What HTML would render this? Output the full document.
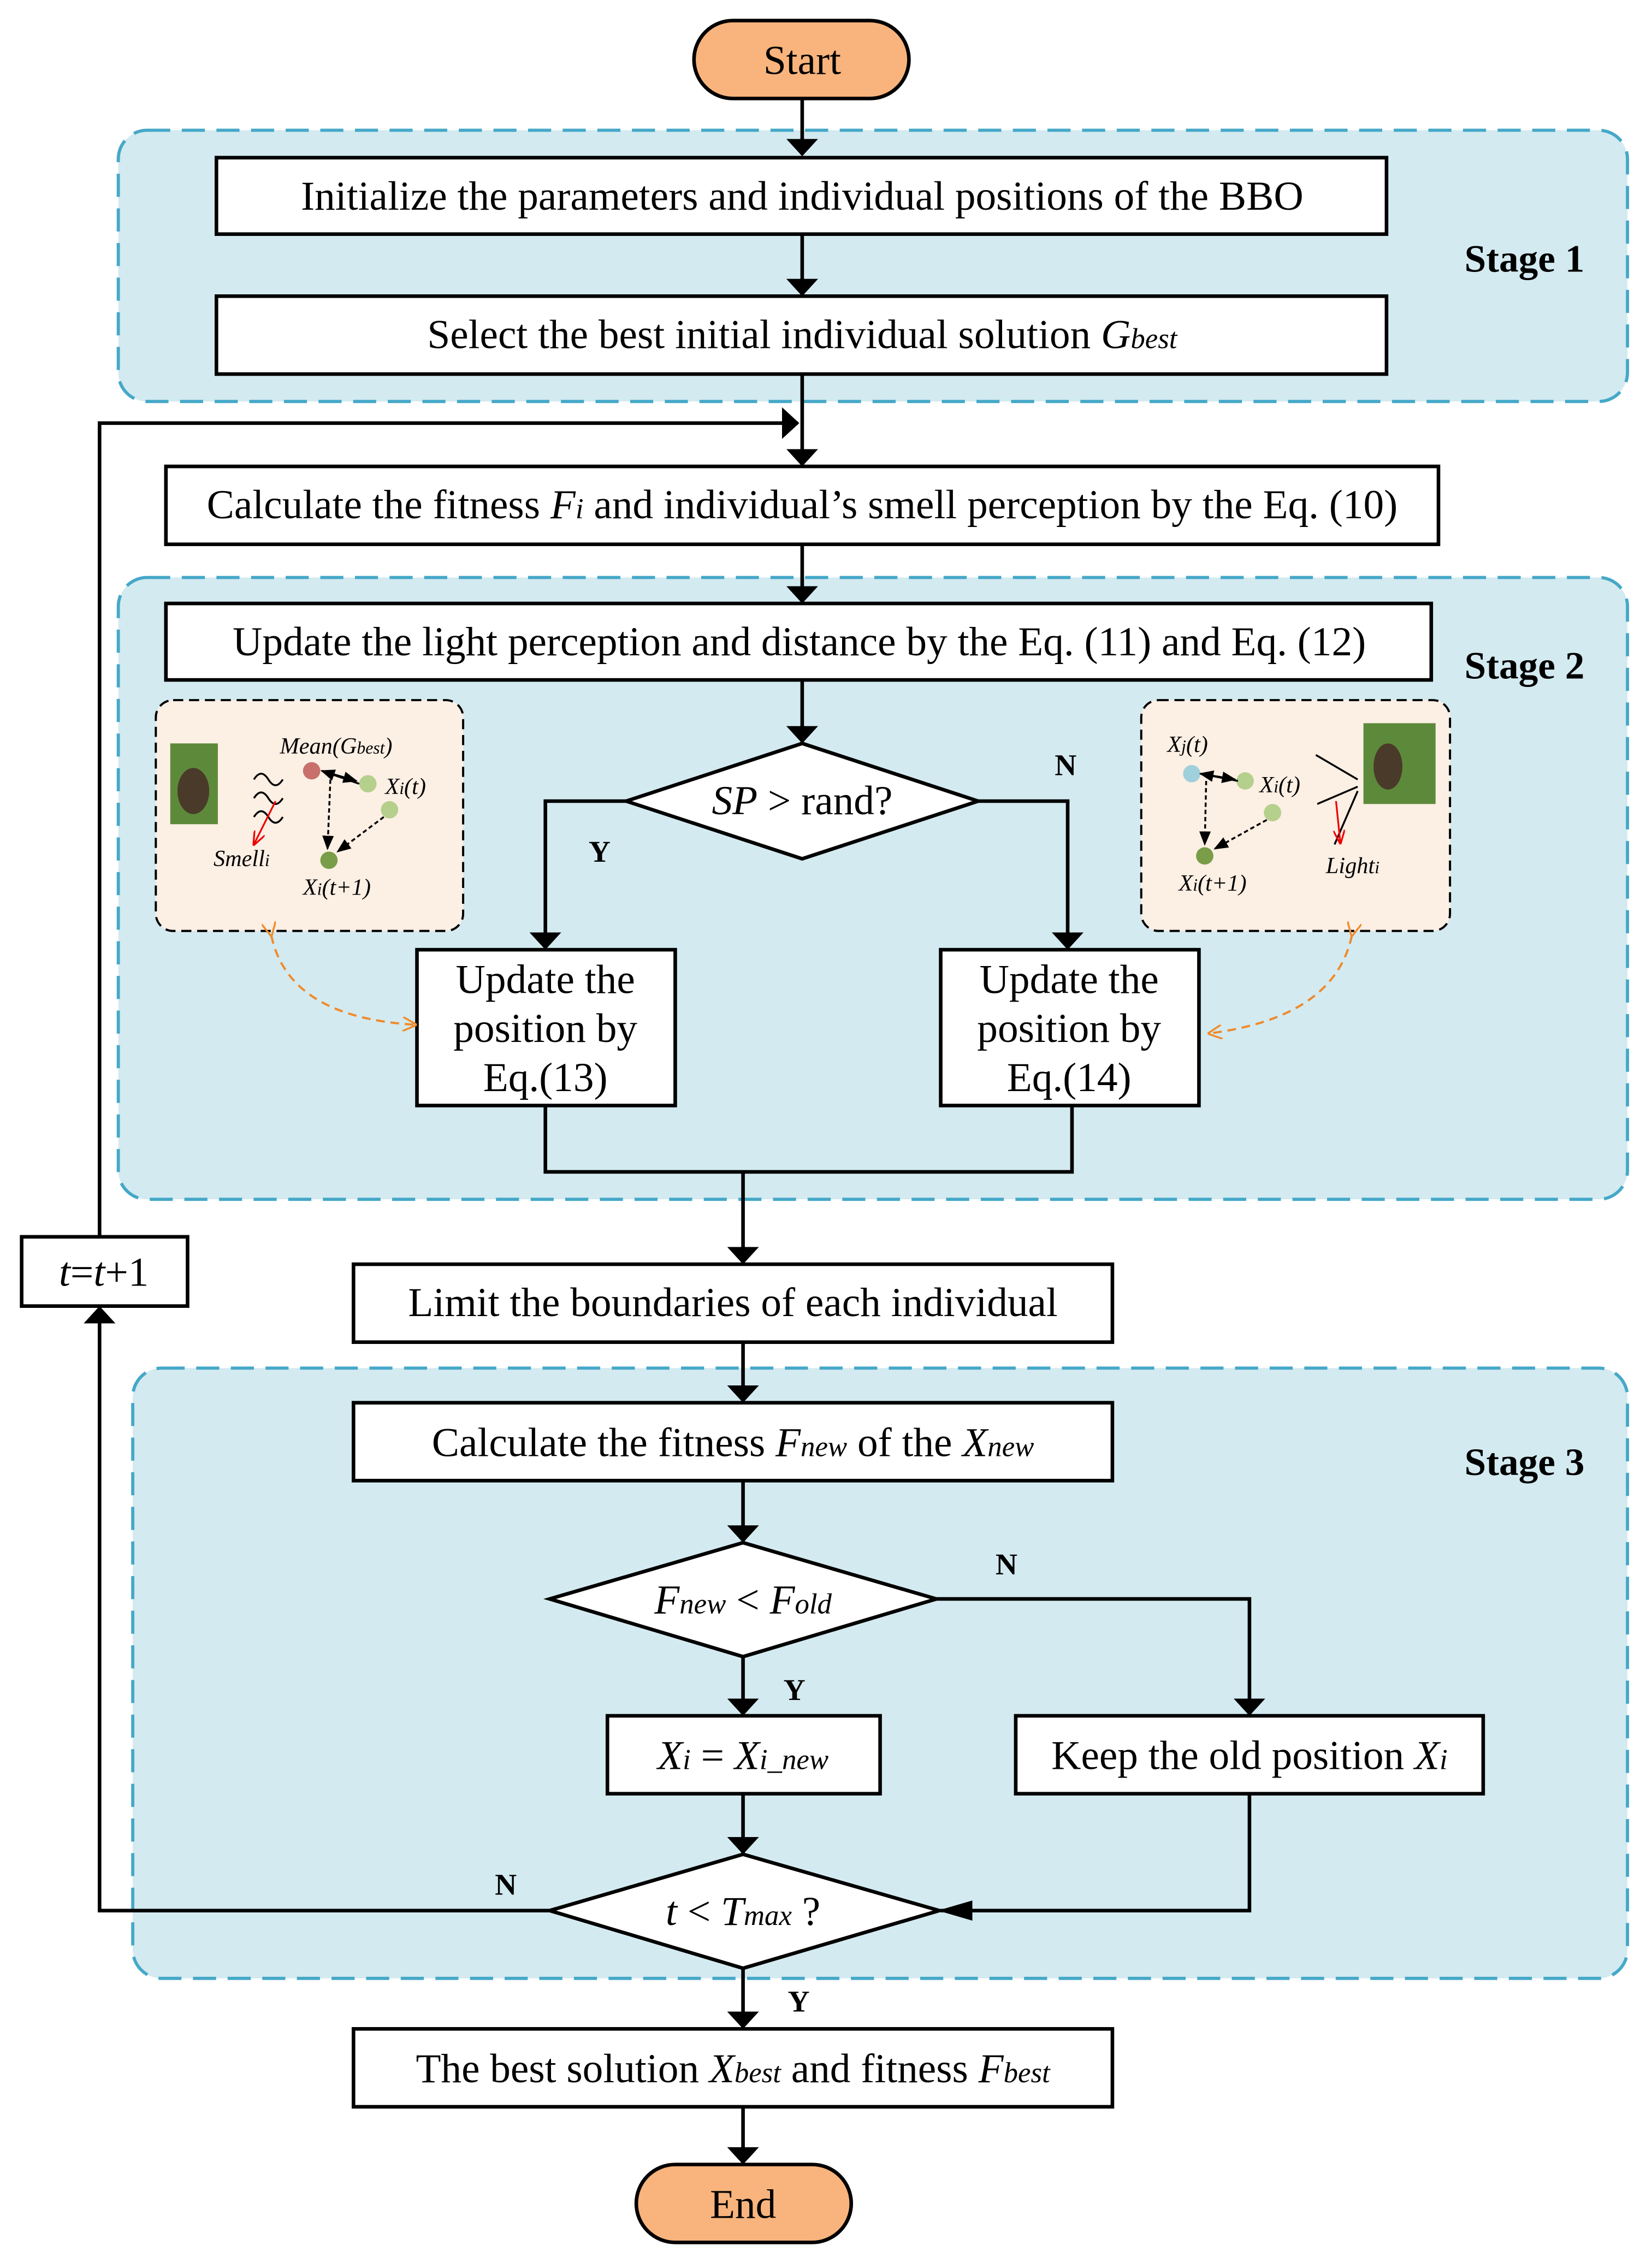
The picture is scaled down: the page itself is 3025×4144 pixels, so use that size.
<!DOCTYPE html>
<html><head><meta charset="utf-8"><style>
html,body{margin:0;padding:0;background:#fff;}
svg{display:block;}
text{font-family:"Liberation Serif",serif;fill:#000;}
</style></head><body>
<svg width="3025" height="4144" viewBox="0 0 1145 1568" xmlns="http://www.w3.org/2000/svg">
<defs>
<marker id="a" markerWidth="12" markerHeight="22" refX="11" refY="6" orient="auto" markerUnits="userSpaceOnUse" viewBox="0 0 12 12" preserveAspectRatio="none">
<path d="M0,0 L12,6 L0,12 Z" fill="#000"/></marker>
<marker id="ab" markerWidth="24" markerHeight="14" refX="22" refY="7" orient="auto" markerUnits="userSpaceOnUse" viewBox="0 0 24 14">
<path d="M0,0 L24,7 L0,14 Z" fill="#000"/></marker>
<marker id="as" markerWidth="10" markerHeight="8" refX="9" refY="4" orient="auto" markerUnits="userSpaceOnUse" viewBox="0 0 10 8">
<path d="M0,0 L10,4 L0,8 Z" fill="#000"/></marker>
<marker id="ar" markerWidth="10" markerHeight="8" refX="9" refY="4" orient="auto" markerUnits="userSpaceOnUse" viewBox="0 0 10 8">
<path d="M0,0 L10,4 L0,8" fill="none" stroke="#e00" stroke-width="1.2"/></marker>
<marker id="ao" markerWidth="10" markerHeight="10" refX="9" refY="5" orient="auto" markerUnits="userSpaceOnUse" viewBox="0 0 10 10">
<path d="M0,0 L10,5 L0,10" fill="none" stroke="#f08a2a" stroke-width="1.3"/></marker>
</defs>

<rect x="82" y="90" width="1046" height="188" rx="20" fill="#d3eaf0" stroke="#45a8c8" stroke-width="2.2" stroke-dasharray="16,8"/>
<rect x="82" y="400" width="1046" height="431" rx="20" fill="#d3eaf0" stroke="#45a8c8" stroke-width="2.2" stroke-dasharray="16,8"/>
<rect x="92" y="948" width="1036" height="423" rx="20" fill="#d3eaf0" stroke="#45a8c8" stroke-width="2.2" stroke-dasharray="16,8"/>

<g font-size="27" font-weight="bold">
<text x="1015" y="188">Stage 1</text>
<text x="1015" y="470">Stage 2</text>
<text x="1015" y="1022">Stage 3</text>
</g>

<g stroke="#000" stroke-width="2.5" fill="none">
<line x1="556" y1="68" x2="556" y2="107" marker-end="url(#a)"/>
<line x1="556" y1="162" x2="556" y2="204" marker-end="url(#a)"/>
<line x1="556" y1="259" x2="556" y2="322" marker-end="url(#a)"/>
<polyline points="69,857 69,293 553,293" marker-end="url(#a)"/>
<line x1="556" y1="377" x2="556" y2="417" marker-end="url(#a)"/>
<line x1="556" y1="471" x2="556" y2="514" marker-end="url(#a)"/>
<polyline points="434,555 378,555 378,657" marker-end="url(#a)"/>
<polyline points="678,555 740,555 740,657" marker-end="url(#a)"/>
<polyline points="378,766 378,812 743,812 743,766"/>
<line x1="515" y1="812" x2="515" y2="875" marker-end="url(#a)"/>
<line x1="515" y1="930" x2="515" y2="971" marker-end="url(#a)"/>
<line x1="515" y1="1026" x2="515" y2="1068" marker-end="url(#a)"/>
<polyline points="649,1108 866,1108 866,1188" marker-end="url(#a)"/>
<line x1="515" y1="1148" x2="515" y2="1188" marker-end="url(#a)"/>
<line x1="515" y1="1243" x2="515" y2="1284" marker-end="url(#a)"/>
<polyline points="866,1243 866,1324 652,1324" marker-end="url(#ab)"/>
<polyline points="381,1324 69,1324 69,906" marker-end="url(#a)"/>
<line x1="515" y1="1364" x2="515" y2="1405" marker-end="url(#a)"/>
<line x1="515" y1="1460" x2="515" y2="1499" marker-end="url(#a)"/>
</g>

<g stroke="#000" stroke-width="2.5" fill="#fff">
<rect x="481" y="14" width="149" height="54" rx="27" fill="#f8b47c"/>
<rect x="150" y="109" width="811" height="53"/>
<rect x="150" y="205" width="811" height="54"/>
<rect x="115" y="323" width="882" height="54"/>
<rect x="115" y="418" width="877" height="53"/>
<polygon points="556,515 678,555 556,595 434,555"/>
<rect x="289" y="658" width="179" height="108"/>
<rect x="652" y="658" width="179" height="108"/>
<rect x="15" y="857" width="115" height="48"/>
<rect x="245" y="876" width="526" height="54"/>
<rect x="245" y="972" width="526" height="54"/>
<polygon points="515,1069 649,1108 515,1148 381,1108"/>
<rect x="421" y="1189" width="189" height="54"/>
<rect x="704" y="1189" width="324" height="54"/>
<polygon points="515,1285 651,1324 515,1364 381,1324"/>
<rect x="245" y="1406" width="526" height="54"/>
<rect x="441" y="1500" width="149" height="54" rx="27" fill="#f8b47c"/>
</g>

<g font-size="28.5" text-anchor="middle">
<text x="556" y="51">Start</text>
<text x="556" y="145">Initialize the parameters and individual positions of the BBO</text>
<text x="556" y="241">Select the best initial individual solution <tspan font-style="italic">G</tspan><tspan font-style="italic" font-size="20">best</tspan></text>
<text x="556" y="359">Calculate the fitness <tspan font-style="italic">F</tspan><tspan font-style="italic" font-size="20">i</tspan> and individual’s smell perception by the Eq. (10)</text>
<text x="554" y="454">Update the light perception and distance by the Eq. (11) and Eq. (12)</text>
<text x="556" y="564"><tspan font-style="italic">SP</tspan> &gt; rand?</text>
<text x="378" y="688">Update the</text>
<text x="378" y="722">position by</text>
<text x="378" y="756">Eq.(13)</text>
<text x="741" y="688">Update the</text>
<text x="741" y="722">position by</text>
<text x="741" y="756">Eq.(14)</text>
<text x="72" y="891"><tspan font-style="italic">t</tspan>=<tspan font-style="italic">t</tspan>+1</text>
<text x="508" y="912">Limit the boundaries of each individual</text>
<text x="508" y="1009">Calculate the fitness <tspan font-style="italic">F</tspan><tspan font-style="italic" font-size="20">new</tspan> of the <tspan font-style="italic">X</tspan><tspan font-style="italic" font-size="20">new</tspan></text>
<text x="515" y="1118"><tspan font-style="italic">F</tspan><tspan font-style="italic" font-size="20">new</tspan> &lt; <tspan font-style="italic">F</tspan><tspan font-style="italic" font-size="20">old</tspan></text>
<text x="515" y="1226"><tspan font-style="italic">X</tspan><tspan font-style="italic" font-size="20">i</tspan> = <tspan font-style="italic">X</tspan><tspan font-style="italic" font-size="20">i_new</tspan></text>
<text x="866" y="1226">Keep the old position <tspan font-style="italic">X</tspan><tspan font-style="italic" font-size="20">i</tspan></text>
<text x="515" y="1334"><tspan font-style="italic">t</tspan> &lt; <tspan font-style="italic">T</tspan><tspan font-style="italic" font-size="20">max</tspan>   ?</text>
<text x="508" y="1443">The best solution <tspan font-style="italic">X</tspan><tspan font-style="italic" font-size="20">best</tspan> and fitness <tspan font-style="italic">F</tspan><tspan font-style="italic" font-size="20">best</tspan></text>
<text x="515" y="1537">End</text>
</g>
<g font-size="21" font-weight="bold">
<text x="408" y="597">Y</text>
<text x="731" y="537">N</text>
<text x="690" y="1091">N</text>
<text x="543" y="1178">Y</text>
<text x="343" y="1313">N</text>
<text x="546" y="1394">Y</text>
</g>

<rect x="108" y="485" width="213" height="160" rx="12" fill="#fcefe4" stroke="#000" stroke-width="1.5" stroke-dasharray="7,4"/>
<rect x="791" y="485" width="214" height="160" rx="12" fill="#fcefe4" stroke="#000" stroke-width="1.5" stroke-dasharray="7,4"/>
<rect x="118" y="515" width="33" height="56" fill="#5d8a3a"/>
<ellipse cx="134" cy="548" rx="11" ry="16" fill="#4a3a2a"/>
<circle cx="216" cy="534" r="6" fill="#c8706a"/>
<circle cx="255" cy="543" r="6" fill="#b5cf8c"/>
<circle cx="270" cy="561" r="6" fill="#b5cf8c"/>
<circle cx="228" cy="596" r="6" fill="#799d48"/>
<g stroke="#000" stroke-width="1.3" fill="none">
<path d="M176,540 q5,-8 10,0 t10,0"/><path d="M176,553 q5,-8 10,0 t10,0"/><path d="M176,566 q5,-8 10,0 t10,0"/>
<line x1="249" y1="543" x2="223" y2="534" marker-end="url(#as)"/>
<line x1="223" y1="534" x2="247" y2="541" marker-end="url(#as)"/>
<line x1="229" y1="540" x2="227" y2="588" stroke-dasharray="3,2" marker-end="url(#as)"/>
<line x1="266" y1="566" x2="234" y2="590" stroke-dasharray="3,2" marker-end="url(#as)"/>
</g>
<line x1="191" y1="555" x2="176" y2="585" stroke="#e00" stroke-width="1.2" marker-end="url(#ar)"/>
<g font-size="16" font-style="italic">
<text x="194" y="522">Mean(G<tspan font-size="12">best</tspan>)</text>
<text x="267" y="550">X<tspan font-size="12">i</tspan>(t)</text>
<text x="148" y="600">Smell<tspan font-size="12">i</tspan></text>
<text x="210" y="620">X<tspan font-size="12">i</tspan>(t+1)</text>
</g>
<rect x="945" y="501" width="50" height="56" fill="#5d8a3a"/>
<ellipse cx="962" cy="531" rx="10" ry="16" fill="#4a3a2a"/>
<circle cx="826" cy="536" r="6" fill="#9fd0dc"/>
<circle cx="863" cy="541" r="6" fill="#b5cf8c"/>
<circle cx="882" cy="563" r="6" fill="#b5cf8c"/>
<circle cx="835" cy="593" r="6" fill="#799d48"/>
<g stroke="#000" stroke-width="1.3" fill="none">
<line x1="858" y1="541" x2="832" y2="536" marker-end="url(#as)"/>
<line x1="832" y1="536" x2="856" y2="540" marker-end="url(#as)"/>
<line x1="836" y1="541" x2="835" y2="585" stroke-dasharray="3,2" marker-end="url(#as)"/>
<line x1="878" y1="568" x2="842" y2="588" stroke-dasharray="3,2" marker-end="url(#as)"/>
<line x1="912" y1="523" x2="941" y2="540"/>
<line x1="913" y1="557" x2="941" y2="545"/>
<line x1="941" y1="548" x2="925" y2="585"/>
</g>
<line x1="926" y1="555" x2="929" y2="584" stroke="#e00" stroke-width="1.2" marker-end="url(#ar)"/>
<g font-size="16" font-style="italic">
<text x="809" y="521">X<tspan font-size="12">j</tspan>(t)</text>
<text x="873" y="549">X<tspan font-size="12">i</tspan>(t)</text>
<text x="919" y="605">Light<tspan font-size="12">i</tspan></text>
<text x="817" y="617">X<tspan font-size="12">i</tspan>(t+1)</text>
</g>
<path d="M188,648 Q200,705 288,710" fill="none" stroke="#f08a2a" stroke-width="1.5" stroke-dasharray="6,4" marker-start="url(#ao)" marker-end="url(#ao)"/>
<path d="M937,648 Q925,705 838,716" fill="none" stroke="#f08a2a" stroke-width="1.5" stroke-dasharray="6,4" marker-start="url(#ao)" marker-end="url(#ao)"/>
</svg>
</body></html>
